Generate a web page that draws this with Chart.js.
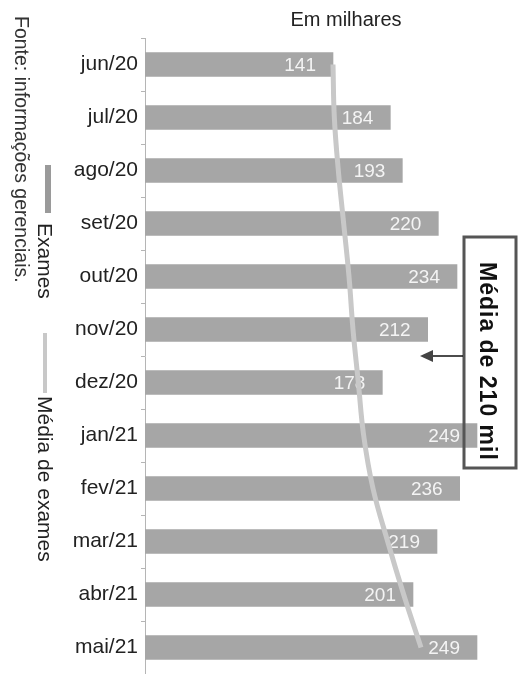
<!DOCTYPE html>
<html lang="pt">
<head>
  <meta charset="UTF-8" />
  <title>Exames por mês</title>
  <script src="https://cdn.jsdelivr.net/npm/chart.js"></script>
  <style>
    body {
      margin: 0;
      background: #fff;
      font-family: "Liberation Sans", Arial, sans-serif;
    }
    #wrap {
      width: 525px;
      height: 674px;
    }
  </style>
</head>
<body>
  <div id="wrap">
    <canvas id="chart" width="525" height="674"></canvas>
  </div>

  <script>
    const meses = ['jun/20', 'jul/20', 'ago/20', 'set/20', 'out/20', 'nov/20',
                   'dez/20', 'jan/21', 'fev/21', 'mar/21', 'abr/21', 'mai/21'];
    const exames = [141, 184, 193, 220, 234, 212, 178, 249, 236, 219, 201, 249];
    const mediaExames = [141, 142, 145, 149, 153, 156, 160, 164, 171, 182, 194, 207];
    const mediaGeral = 210;

    const titulo = 'Em milhares';
    const fonte = 'Fonte: informações gerenciais.';
    const destaque = 'Média de 210 mil';

    const FONT = '"Liberation Sans", Arial, sans-serif';

    // white value labels inside the end of each bar
    const barLabels = {
      id: 'barLabels',
      afterDatasetDraw(chart, args) {
        if (args.meta.type !== 'bar') return;
        const ctx = chart.ctx;
        ctx.save();
        ctx.font = '19px ' + FONT;
        ctx.fillStyle = '#f4f4f4';
        ctx.textAlign = 'right';
        ctx.textBaseline = 'middle';
        args.meta.data.forEach((bar, i) => {
          ctx.fillText(exames[i], bar.x - 17, bar.y + 1);
        });
        ctx.restore();
      }
    };

    function vText(ctx, text, x, y, font, spacing) {
      ctx.save();
      ctx.translate(x, y);
      ctx.rotate(Math.PI / 2);
      ctx.font = font;
      if (spacing) ctx.letterSpacing = spacing;
      ctx.textAlign = 'left';
      ctx.textBaseline = 'middle';
      ctx.fillText(text, 0, 0);
      ctx.restore();
    }

    // title, rotated legend/source on the left, callout box on the right
    const extras = {
      id: 'extras',
      afterDraw(chart) {
        const ctx = chart.ctx;
        const xs = chart.scales.x;
        const ys = chart.scales.y;
        ctx.save();
        ctx.fillStyle = '#222';
        ctx.font = '20px ' + FONT;
        ctx.textAlign = 'center';
        ctx.textBaseline = 'middle';
        ctx.fillText(titulo, 346, 20);

        ctx.fillStyle = '#333';
        vText(ctx, fonte, 20, 16, '19.5px ' + FONT);

        // legend: Exames
        ctx.fillStyle = '#9a9a9a';
        ctx.fillRect(45, 165, 6, 48);
        ctx.fillStyle = '#222';
        vText(ctx, chart.data.datasets[1].label, 44, 223, '21px ' + FONT);

        // legend: Média de exames
        ctx.fillStyle = '#c8c8c8';
        ctx.fillRect(43, 333, 4, 60);
        ctx.fillStyle = '#222';
        vText(ctx, chart.data.datasets[0].label, 44, 396, '21px ' + FONT);

        // callout box
        ctx.strokeStyle = '#555';
        ctx.lineWidth = 3;
        ctx.strokeRect(464, 237, 52, 231);
        ctx.fillStyle = '#111';
        vText(ctx, destaque, 486, 262, 'bold 23px ' + FONT, '1px');

        // arrow to the average
        const tipX = xs.getPixelForValue(mediaGeral) - 5;
        const tipY = (ys.getPixelForValue(5) + ys.getPixelForValue(6)) / 2;
        ctx.strokeStyle = '#111';
        ctx.lineWidth = 1.5;
        ctx.beginPath();
        ctx.moveTo(463, tipY);
        ctx.lineTo(tipX + 10, tipY);
        ctx.stroke();
        ctx.fillStyle = '#444';
        ctx.beginPath();
        ctx.moveTo(tipX, tipY);
        ctx.lineTo(tipX + 13, tipY - 6);
        ctx.lineTo(tipX + 13, tipY + 6);
        ctx.closePath();
        ctx.fill();
        ctx.restore();
      }
    };

    new Chart(document.getElementById('chart'), {
      data: {
        labels: meses,
        datasets: [
          {
            type: 'line',
            label: 'Média de exames',
            data: mediaExames,
            borderColor: '#c8c8c8',
            borderWidth: 5,
            pointRadius: 0,
            tension: 0.4,
            order: 1
          },
          {
            type: 'bar',
            label: 'Exames',
            data: exames,
            backgroundColor: '#a6a6a6',
            barThickness: 24,
            order: 2
          }
        ]
      },
      options: {
        indexAxis: 'y',
        responsive: false,
        animation: false,
        layout: { padding: { top: 38, right: 0, bottom: -4, left: 0 } },
        scales: {
          x: { display: false, min: 0, max: 285 },
          y: {
            grid: { drawOnChartArea: false, offset: true, tickLength: 4, color: '#b5b5b5' },
            border: { color: '#b5b5b5', width: 1 },
            ticks: { color: '#222', padding: 3, font: { size: 21, family: FONT } },
            afterFit(scale) {
              scale.width = 145;
              scale.paddingTop = 0;
              scale.paddingBottom = -4;
            }
          }
        },
        plugins: {
          legend: { display: false },
          tooltip: { enabled: false }
        }
      },
      plugins: [barLabels, extras]
    });
  </script>
</body>
</html>
